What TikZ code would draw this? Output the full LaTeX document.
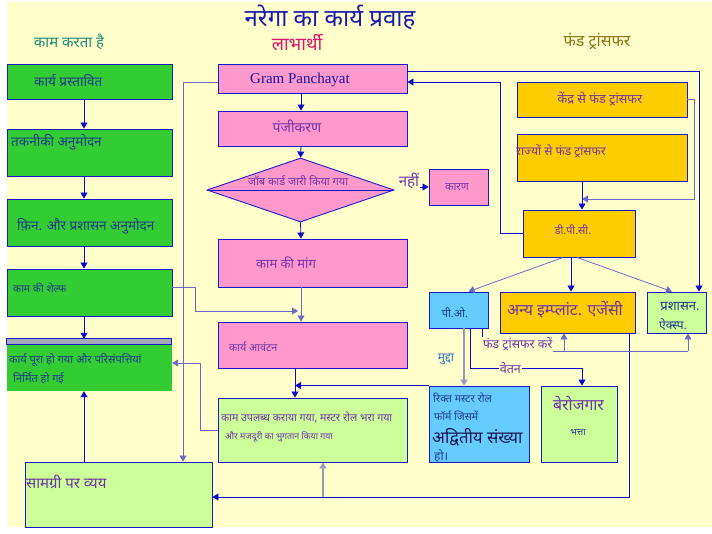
\documentclass[tikz,border=0pt]{standalone}
\usepackage{fontspec}
\setmainfont{Noto Sans}[Script=Devanagari]
\newfontfamily\gpfont{Liberation Serif}
\usetikzlibrary{shapes.geometric}
\usetikzlibrary{arrows.meta}
\definecolor{paper}{HTML}{FFFFCC}
\definecolor{leafgreen}{HTML}{33CC33}
\definecolor{palegreen}{HTML}{CCFF99}
\definecolor{pinkfill}{HTML}{FF99CC}
\definecolor{goldfill}{HTML}{FFCC00}
\definecolor{skyfill}{HTML}{66CCFF}
\definecolor{stripgray}{HTML}{A4AAB8}
\definecolor{edge}{HTML}{1A1ACC}
\definecolor{wireblue}{HTML}{0A0ACC}
\definecolor{softblue}{HTML}{6A6AC8}
\definecolor{grayline}{HTML}{9A9AC0}
\definecolor{navytext}{HTML}{1E3A8C}
\definecolor{purpletext}{HTML}{7033A8}
\definecolor{gpblue}{HTML}{1414A0}
\definecolor{titleblue}{HTML}{1A1AB0}
\definecolor{headteal}{HTML}{1E8A78}
\definecolor{headpink}{HTML}{E0106E}
\definecolor{headolive}{HTML}{8A7414}
\definecolor{muddablue}{HTML}{3070C0}
\definecolor{darktext}{HTML}{141450}
\newcommand\fsz[1]{\fontsize{#1}{#1}\selectfont}

\begin{document}
\begin{tikzpicture}[x=1pt,y=-1pt,
    box/.style={draw=edge, line width=0.9pt, inner sep=0pt},
    txt/.style={inner sep=0pt, anchor=west},
    arr/.style={-{Triangle[length=6pt,width=7pt]}},
    wire/.style={draw=wireblue, line width=0.8pt},
    soft/.style={draw=softblue, line width=0.8pt},
    grayish/.style={draw=grayline, line width=1.6pt}]
    \fill [white] (0,0) rectangle (712,533);
    \fill [paper] (7,2) rectangle (712,527);
    \useasboundingbox (0,0) rectangle (712,533);

    % headings
    \node (title) [text=titleblue] at (330,17) {\fsz{24}नरेगा का कार्य प्रवाह};
    \node (hdleft) [text=headteal] at (69,42) {\fsz{15}काम करता है};
    \node (hdmid) [text=headpink] at (297,43) {\fsz{18}लाभार्थी};
    \node (hdright) [text=headolive] at (597,42) {\fsz{16}फंड ट्रांसफर};

    % left column
    \node (prop) [box, fill=leafgreen, minimum width=165pt, minimum height=35pt] at (89.5,81.5) {};
    \node (takniki) [box, fill=leafgreen, minimum width=165pt, minimum height=47pt] at (89.5,152.5) {};
    \node (fin) [box, fill=leafgreen, minimum width=165pt, minimum height=47pt] at (89.5,222.5) {};
    \node (shelf) [box, fill=leafgreen, minimum width=165pt, minimum height=47pt] at (89.5,292.5) {};
    \node (done) [fill=leafgreen, inner sep=0pt, minimum width=165pt, minimum height=52pt] at (89.5,365) {};
    \filldraw [fill=stripgray, draw=edge, line width=0.9pt] (done.north west) rectangle ++(165,6);
    \node (samagri) [box, fill=palegreen, minimum width=187pt, minimum height=65pt] at (118.5,494.5) {};

    \node (prop-t) [txt, text=navytext] at (34,81) {\fsz{13.5}कार्य प्रस्तावित};
    \node (takniki-t) [txt, text=navytext] at (11,142) {\fsz{13.5}तकनीकी अनुमोदन};
    \node (fin-t) [txt, text=navytext] at (17,226) {\fsz{13.5}फ़िन. और प्रशासन अनुमोदन};
    \node (shelf-t) [txt, text=navytext] at (13,288) {\fsz{10.5}काम की शेल्फ};
    \node (done-t) [txt, text=navytext] at (9,360) {\fsz{11}कार्य पूरा हो गया और परिसंपत्तियां};
    \node (done-t2) [txt, text=navytext] at (13,378) {\fsz{11}निर्मित हो गई};
    \node (samagri-t) [txt, text=purpletext] at (26,482) {\fsz{15}सामग्री पर व्यय};

    % middle column
    \node (gp) [box, fill=pinkfill, minimum width=189pt, minimum height=29pt] at (312.5,78.5) {};
    \node (panji) [box, fill=pinkfill, minimum width=189pt, minimum height=35pt] at (312.5,128.5) {};
    \node (job) [diamond, draw=edge, fill=pinkfill, line width=0.9pt, inner sep=0pt,
        minimum width=187pt, minimum height=64pt] at (300.5,190) {};
    \draw [draw=edge, line width=0.9pt] (job.west) -- (job.east);
    \node (maang) [box, fill=pinkfill, minimum width=189pt, minimum height=48pt] at (312.5,263) {};
    \node (aavantan) [box, fill=pinkfill, minimum width=189pt, minimum height=46pt] at (312.5,345) {};
    \node (upalabdh) [box, fill=palegreen, minimum width=189pt, minimum height=64pt] at (312.5,430) {};
    \node (karan) [box, fill=pinkfill, minimum width=59pt, minimum height=36pt] at (458.5,187) {};

    \node (gp-t) [text=gpblue] at (300,80) {\gpfont\fsz{15}Gram Panchayat};
    \node (panji-t) [text=purpletext] at (297,126) {\fsz{14}पंजीकरण};
    \node (job-t) [text=purpletext] at (298,181) {\fsz{11}जॉब कार्ड जारी किया गया};
    \node (nahi) [text=purpletext, inner sep=1pt] at (409,181) {\fsz{15}नहीं};
    \node (karan-t) [text=purpletext] at (457,187) {\fsz{11}कारण};
    \node (maang-t) [text=purpletext] at (286,263) {\fsz{13}काम की मांग};
    \node (aavantan-t) [txt, text=purpletext] at (229,347) {\fsz{10.7}कार्य आवंटन};
    \node (upalabdh-t) [txt, text=purpletext] at (221,417) {\fsz{10.6}काम उपलब्ध कराया गया, मस्टर रोल भरा गया};
    \node (upalabdh-t2) [txt, text=purpletext] at (225,437) {\fsz{8.8}और मजदूरी का भुगतान किया गया};

    % right column
    \node (kendra) [box, fill=goldfill, minimum width=170pt, minimum height=35pt] at (602,99.5) {};
    \node (rajya) [box, fill=goldfill, minimum width=170pt, minimum height=47pt] at (602,157.5) {};
    \node (dpc) [box, fill=goldfill, minimum width=112pt, minimum height=47pt] at (579,233.5) {};
    \node (po) [box, fill=skyfill, minimum width=59pt, minimum height=36pt] at (458.5,310) {};
    \node (anya) [box, fill=goldfill, minimum width=135pt, minimum height=41pt] at (567.5,312.5) {};
    \node (prash) [box, fill=palegreen, minimum width=59pt, minimum height=41pt] at (676.5,312.5) {};
    \node (rikt) [box, fill=skyfill, minimum width=100pt, minimum height=76pt] at (479,424) {};
    \node (berozgar) [box, fill=palegreen, minimum width=76pt, minimum height=76pt] at (579,424) {};

    \node (kendra-t) [text=purpletext] at (600,99) {\fsz{12.7}केंद्र से फंड ट्रांसफर};
    \node (rajya-t) [txt, text=purpletext] at (516,151) {\fsz{12}राज्यों से फंड ट्रांसफर};
    \node (dpc-t) [text=purpletext] at (573,230) {\fsz{10.8}डी.पी.सी.};
    \node (po-t) [text=navytext] at (455,313) {\fsz{11}पी.ओ.};
    \node (anya-t) [text=purpletext] at (565,310) {\fsz{15.8}अन्य इम्प्लांट. एजेंसी};
    \node (prash-t) [text=navytext] at (680,306) {\fsz{13}प्रशासन.};
    \node (prash-t2) [text=navytext] at (673,325) {\fsz{12}ऐक्स्प.};
    \node (rikt-t) [txt, text=navytext] at (433,398) {\fsz{10.6}रिक्त मस्टर रोल};
    \node (rikt-t2) [txt, text=navytext] at (434,416) {\fsz{10.6}फॉर्म जिसमें};
    \node (rikt-t3) [txt, text=darktext] at (432,437) {\fsz{16.8}अद्वितीय संख्या};
    \node (rikt-t4) [txt, text=navytext] at (434,456) {\fsz{12}हो।};
    \node (berozgar-t) [txt, text=purpletext] at (553,404) {\fsz{15.8}बेरोजगार};
    \node (berozgar-t2) [text=navytext] at (578,433) {\fsz{9.3}भत्ता};
    \node (mudda) [text=muddablue] at (446,359) {\fsz{12}मुद्दा};
    \node (ftk) [txt, text=purpletext] at (483,344) {\fsz{12.3}फंड ट्रांसफर करें};

    % bends of the connectors
    \coordinate (lx) at (84,0);
    \coordinate (mx) at (301,0);
    \coordinate (mx2) at (295,0);
    \coordinate (gpw) at (183,82);
    \coordinate (shelfa) at (195,287);
    \coordinate (shelfb) at (298,311);
    \coordinate (updone) at (200,363);
    \coordinate (botr) at (629,497);
    \coordinate (botup) at (323,497);
    \coordinate (kendr) at (694,199);
    \coordinate (rx) at (582,0);
    \coordinate (dpcgp) at (500,82);
    \coordinate (gptop) at (699,71);
    \coordinate (mudx) at (464,0);
    \coordinate (veta) at (470,368);
    \coordinate (vetb) at (582,368);
    \coordinate (ftx) at (482,0);
    \coordinate (fta) at (564,351);
    \coordinate (ftb) at (688,351);

    % left column flow
    \foreach \a/\b in {prop/takniki, takniki/fin, fin/shelf, shelf/done}
        \draw [wire, arr] (\a.south -| lx) -- (\b.north -| lx);
    \draw [wire, arr] (samagri.north -| lx) -- (done.south -| lx);
    \draw [soft, arr] (gp.west |- gpw) -- (gpw) -- (samagri.north -| gpw);
    \draw [soft, arr] (shelf.east |- shelfa) -- (shelfa) |- (shelfb);

    % middle column flow
    \draw [wire, arr] (gp.south -| mx) -- (panji.north -| mx);
    \draw [wire, arr] (panji.south -| mx) -- (job.north);
    \draw [wire, arr] (job.south) -- (maang.north -| mx);
    \draw [wire, arr] (nahi.east |- karan.west) -- (karan.west);
    \draw [soft, arr] (maang.south -| mx) -- (aavantan.north -| mx);
    \draw [wire, arr] (aavantan.south -| mx2) -- (upalabdh.north -| mx2);
    \draw [wire, arr] (rikt.north west) -- (rikt.north west -| mx2);
    \draw [soft, arr] (upalabdh.west) -| (updone) -- (done.east |- updone);
    \draw [wire, arr] (anya.south -| botr) -- (botr) -- (samagri.east |- botr);
    \draw [grayish, arr] (botup) -- (upalabdh.south -| botup);

    % fund flow
    \draw [soft, arr] (kendra.east) -| (kendr) -- (kendr -| rx);
    \draw [wire, arr] (rajya.south -| rx) -- (dpc.north -| rx);
    \draw [wire, arr] (dpc.west) -| (dpcgp) -- (gp.east |- dpcgp);
    \draw [wire, arr] (gp.east |- gptop) -- (gptop) -- (prash.north -| gptop);
    \draw [soft, arr] ([xshift=-16pt]dpc.south) -- ([xshift=10pt]po.north);
    \draw [wire, arr] ([xshift=-8pt]dpc.south) -- ([xshift=3.5pt]anya.north);
    \draw [soft, arr] ([xshift=-2pt]dpc.south) -- ([xshift=-4.5pt]prash.north);
    \draw [grayish, arr] (po.south -| mudx) -- (rikt.north -| mudx);
    \draw [wire, arr] (po.south -| veta) -- (veta) -- node [pos=0.36, fill=paper, inner sep=1pt, text=purpletext] (vetan) {\fsz{12.5}वेतन} (vetb) -- (berozgar.north -| vetb);
    \draw [wire] (po.south -| ftx) -- (ftx |- ftk.north);
    \draw [soft] (ftk.east |- ftb) -- (ftb);
    \draw [soft, arr] (fta) -- (anya.south -| fta);
    \draw [soft, arr] (ftb) -- (prash.south -| ftb);
\end{tikzpicture}
\end{document}
